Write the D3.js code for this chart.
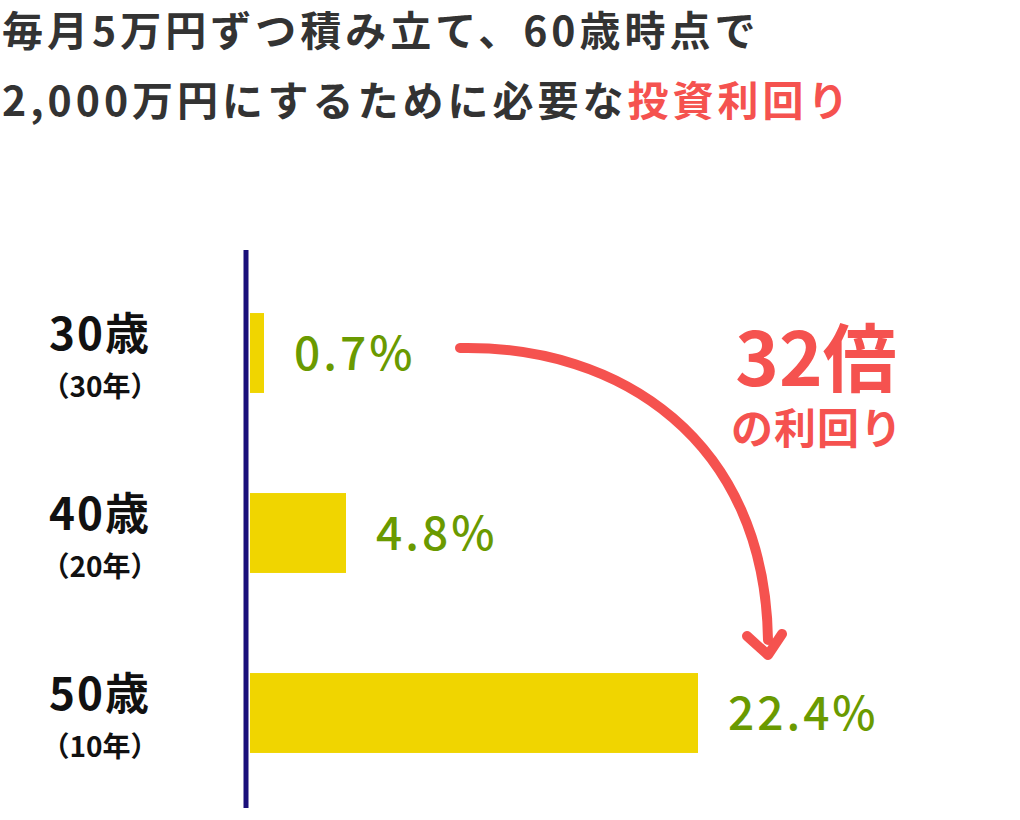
<!DOCTYPE html>
<html><head><meta charset="utf-8">
<script src="https://cdn.jsdelivr.net/npm/d3@7"></script>
<style>body{margin:0;background:#fff}text{font-family:"Noto Sans CJK JP",sans-serif}</style>
</head><body><svg id="c" width="1020" height="820"></svg>
<script>
var ages = ["30歳", "40歳", "50歳"];
var years = ["（30年）", "（20年）", "（10年）"];
var rates = [0.7, 4.8, 22.4];
var labels = ["0.7%", "4.8%", "22.4%"];

var svg = d3.select("#c");
var red = "#f5524f", green = "#6a9a00", yellow = "#f0d500";

// title
svg.append("text").attr("x", 2).attr("y", 46).attr("font-size", 41).attr("font-weight", 700)
  .attr("letter-spacing", 4).attr("fill", "#333").text("毎月5万円ずつ積み立て、60歳時点で");
var t2 = svg.append("text").attr("x", 2).attr("y", 116).attr("font-size", 41).attr("font-weight", 700)
  .attr("letter-spacing", 4).attr("fill", "#333");
t2.append("tspan").text("2,000万円にするために必要な");
t2.append("tspan").attr("fill", red).text("投資利回り");

var x = d3.scaleLinear().domain([0, 22.4]).range([250, 698]);
var y = d3.scaleBand().domain(ages).range([263, 803]).paddingInner(0.556).paddingOuter(0.278);

svg.selectAll("rect.bar").data(rates).enter().append("rect")
  .attr("x", x(0)).attr("y", (d, i) => y(ages[i]))
  .attr("width", d => x(d) - x(0)).attr("height", y.bandwidth()).attr("fill", yellow);

svg.append("line").attr("x1", 246).attr("x2", 246).attr("y1", 250).attr("y2", 808)
  .attr("stroke", "#1a0f7a").attr("stroke-width", 5);

svg.selectAll("text.val").data(rates).enter().append("text")
  .attr("x", d => x(d) + 30).attr("y", (d, i) => y(ages[i]) + y.bandwidth() / 2 + 17)
  .attr("font-size", 46).attr("font-weight", 500).attr("letter-spacing", 3)
  .attr("fill", green).text((d, i) => labels[i]);

ages.forEach(function(a, i) {
  var cy = y(a) + y.bandwidth() / 2;
  svg.append("text").attr("x", 100).attr("y", cy - 3).attr("text-anchor", "middle")
    .attr("font-size", 44).attr("font-weight", 700).attr("letter-spacing", 2).attr("fill", "#111").text(a);
  svg.append("text").attr("x", 100).attr("y", cy + 44).attr("text-anchor", "middle")
    .attr("font-size", 28).attr("font-weight", 700).attr("fill", "#111").text(years[i]);
});

// arrow
svg.append("path").attr("d", "M460,348 C620,345 765,440 768,640")
  .attr("fill", "none").attr("stroke", red).attr("stroke-width", 10).attr("stroke-linecap", "round");
svg.append("path").attr("d", "M747,636 L768,655 L782,634")
  .attr("fill", "none").attr("stroke", red).attr("stroke-width", 10).attr("stroke-linecap", "round").attr("stroke-linejoin", "round");

svg.append("text").attr("x", 816).attr("y", 386).attr("text-anchor", "middle")
  .attr("font-size", 74).attr("font-weight", 700).attr("fill", red).text("32倍");
svg.append("text").attr("x", 817).attr("y", 444).attr("text-anchor", "middle")
  .attr("font-size", 42).attr("font-weight", 700).attr("letter-spacing", 1).attr("fill", red).text("の利回り");
</script></body></html>
